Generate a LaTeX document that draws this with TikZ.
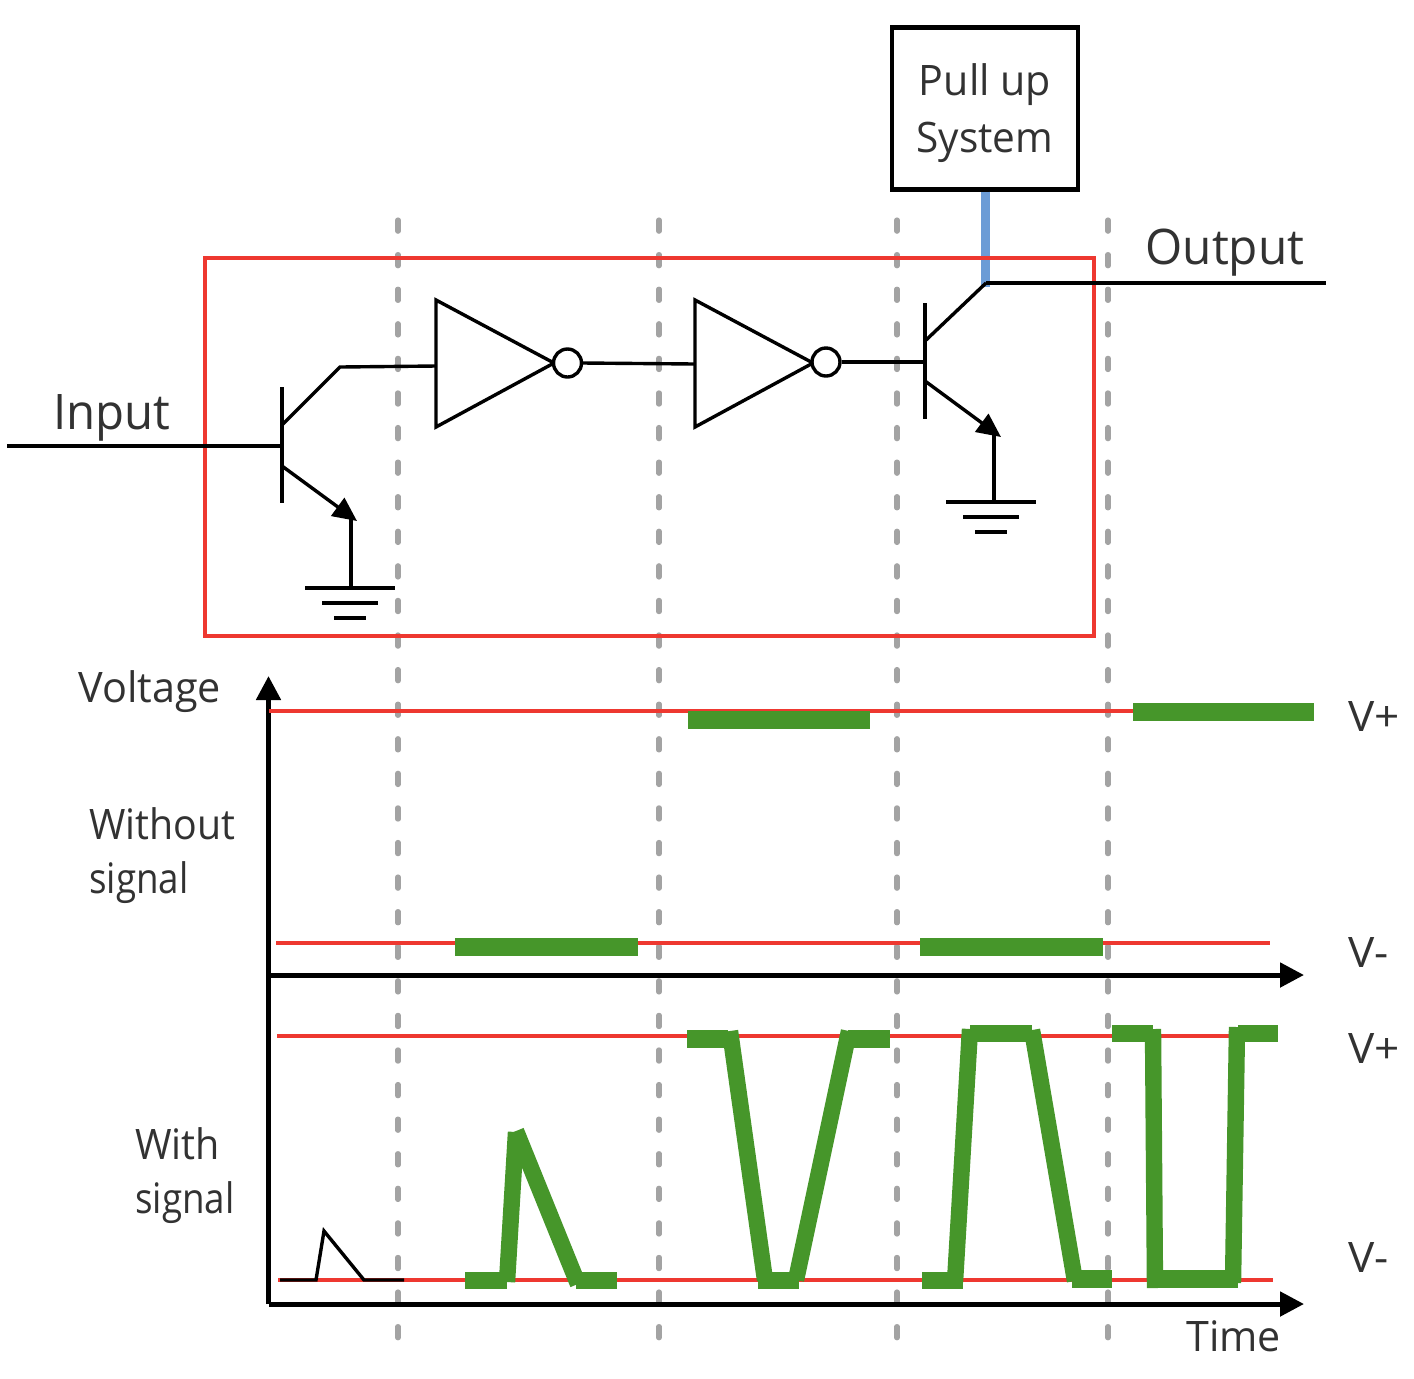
\documentclass[tikz,border=0pt]{standalone}
\usepackage{fontspec}
\usepackage{graphicx}
\setmainfont{Open Sans}
\usetikzlibrary{arrows.meta,shapes.geometric}
\definecolor{rd}{RGB}{238,56,48}
\definecolor{gn}{RGB}{70,150,42}
\definecolor{bl}{RGB}{108,156,214}
\definecolor{gy}{RGB}{163,163,163}
\definecolor{tx}{RGB}{50,50,50}
\newcommand{\sx}[2]{\scalebox{#1}[1]{#2}}
\tikzset{
 x=0.5pt,y=-0.5pt,
 wire/.style={line width=1.7pt,black},
 guide/.style={line width=2.6pt,gy,line cap=round,dash pattern=on 5.6pt off 11.69pt},
 level/.style={line width=1.7pt,rd},
 sig/.style={line width=8.2pt,gn},
 sigb/.style={line width=8.6pt,gn},
 axis/.style={line width=2.5pt,black,-{Triangle[length=12pt,width=12pt]}},
 lab/.style={inner sep=0pt,font=\fontsize{21}{21}\selectfont,text=tx},
 labb/.style={inner sep=0pt,font=\fontsize{24.5}{24.5}\selectfont,text=tx},
 emit/.style={wire,-{Triangle[length=12pt,width=11pt]}},
 bubble/.style={circle,draw=black,line width=1.7pt,fill=white,minimum size=14pt,inner sep=0pt},
 pulup/.style={draw=black,line width=2.1pt,minimum width=93pt,minimum height=81pt,inner sep=0pt,align=center,font=\fontsize{21}{28.5}\selectfont,text=tx},
}
\newcommand{\gnd}[3]{% x, y, name
 \coordinate (#3a) at (#1-45,#2); \coordinate (#3b) at (#1+45,#2);
 \coordinate (#3c) at (#1-28,#2+15); \coordinate (#3d) at (#1+28,#2+15);
 \coordinate (#3e) at (#1-16,#2+30); \coordinate (#3f) at (#1+16,#2+30);
 \draw[wire] (#3a)--(#3b) (#3c)--(#3d) (#3e)--(#3f);
}
\begin{document}
\begin{tikzpicture}
\useasboundingbox (0,0) rectangle (1414,1378);
% guides
\foreach \n/\x in {g1/398,g2/659,g3/897,g4/1108}{
 \coordinate (\n a) at (\x,220); \coordinate (\n b) at (\x,1342);
 \draw[guide] (\n a)--(\n b);
}
% pull up
\node[pulup] (pull) at (985,108.5) {\rule{0pt}{21pt}\sx{.98}{Pull up}\\\sx{.965}{System}};
\coordinate (node) at (985.5,287);
\draw[line width=4.6pt,bl] (pull.south -| node)--(node);
% red box
\node[draw=rd,line width=2pt,minimum width=444.5pt,minimum height=189pt,inner sep=0pt] (box) at (649.2,447) {};
% Output
\coordinate (outa) at (986,283);
\coordinate (outr) at (1326,283);
\draw[wire] (outa)--(outr);
\node[labb,anchor=base] (outl) at (1225,264) {\sx{.975}{Output}};
% Input transistor
\coordinate (inl) at (7,446); \coordinate (b1) at (282,446);
\coordinate (b1t) at (282,387); \coordinate (b1b) at (282,503);
\coordinate (c1a) at (282,425); \coordinate (c1) at (340,367);
\coordinate (e1a) at (282,466); \coordinate (e1) at (357,521);
\coordinate (g1t) at (351,588); \coordinate (g1e) at (351,516);
\draw[wire] (inl)--(b1);
\draw[wire] (b1t)--(b1b);
\node[labb,anchor=base] (inp) at (112,429) {\sx{.967}{Input}};
\draw[emit] (e1a)--(e1);
\draw[wire] (g1e)--(g1t);
\gnd{350}{588}{ga}
% inverters
\coordinate (i1a) at (436,300); \coordinate (i1b) at (436,427); \coordinate (i1c) at (554,363);
\draw[wire,line join=miter] (i1a)--(i1c)--(i1b)--cycle;
\node[bubble] (o1) at (567.5,363) {};
\coordinate (i1in) at (436,366);
\draw[wire] (c1a)--(c1)--(i1in);
\coordinate (i2a) at (695,300); \coordinate (i2b) at (695,427); \coordinate (i2c) at (813,363);
\draw[wire,line join=miter] (i2a)--(i2c)--(i2b)--cycle;
\node[bubble] (o2) at (826,362) {};
\coordinate (i2in) at (695,364);
\draw[wire] (o1.east)--(i2in);
% output transistor
\coordinate (b2) at (925,362);
\coordinate (b2t) at (925,303); \coordinate (b2b) at (925,419);
\coordinate (c2a) at (925,341); \coordinate (e2a) at (925,381); \coordinate (e2) at (1001,437);
\coordinate (g2t) at (994,502); \coordinate (g2e) at (994,432);
\draw[wire] (o2.east)--(b2);
\draw[wire] (b2t)--(b2b);
\draw[wire] (c2a)--(outa);
\draw[emit] (e2a)--(e2);
\draw[wire] (g2e)--(g2t);
\gnd{991}{502}{gb}
% axes
\coordinate (org) at (268.5,1304); \coordinate (top) at (268.5,676);
\coordinate (mid) at (268.5,975); \coordinate (midr) at (1304,975); \coordinate (botr) at (1304,1304);
\draw[axis] (org)--(top);
\draw[axis] (mid)--(midr);
\draw[axis] (org)--(botr);
% levels
\coordinate (l1a) at (269,711); \coordinate (l1b) at (1311,711);
\coordinate (l2a) at (276,943); \coordinate (l2b) at (1270,943);
\coordinate (l3a) at (277,1036); \coordinate (l3b) at (1273,1036);
\coordinate (l4a) at (278,1280); \coordinate (l4b) at (1273,1280);
\draw[level] (l1a)--(l1b);
\draw[level] (l2a)--(l2b);
\draw[level] (l3a)--(l3b);
\draw[level] (l4a)--(l4b);
% without signal bars
\draw[sigb] (688,720)--(870,720);
\draw[sigb] (1133,712)--(1314,712);
\draw[sigb] (455,947)--(638,947);
\draw[sigb] (920,947)--(1103,947);
% small input pulse
\draw[wire] (280,1280)--(316,1280)--(324,1231)--(364,1280)--(404,1280);
% with signal traces
\draw[sigb] (465,1280.5)--(507,1280.5) (576,1280.5)--(617,1280.5);
\draw[sig] (507,1282)--(516,1132);
\draw[sig] (516,1131)--(578,1284);
\draw[sigb] (687,1039)--(728,1039) (758,1280.5)--(799,1280.5) (848,1039)--(890,1039);
\draw[sig] (730,1031)--(765,1280);
\draw[sig] (796,1280)--(849,1031);
\draw[sigb] (922,1280.5)--(963,1280.5) (970,1033.5)--(1032,1033.5) (1072,1279)--(1112,1279);
\draw[sig] (955,1282)--(970,1029);
\draw[sig] (1032,1030)--(1075,1281);
\draw[sigb] (1112,1033.5)--(1153,1033.5) (1155,1279)--(1238,1279) (1238,1033.5)--(1278,1033.5);
\draw[sig] (1153,1029)--(1155,1288);
\draw[sig] (1233,1283)--(1237,1027);
% labels
\node[lab,anchor=base west] (volt) at (78,702) {\sx{.985}{Voltage}};
\node[lab,anchor=base west] (wo) at (89,839) {\sx{.935}{Without}};
\node[lab,anchor=base west] (wo2) at (89,893) {\sx{.875}{signal}};
\node[lab,anchor=base west] (wi) at (135,1159) {\sx{.94}{With}};
\node[lab,anchor=base west] (wi2) at (135,1213) {\sx{.875}{signal}};
\node[lab,anchor=base west] (vp1) at (1348,731) {\sx{1.05}{V+}};
\node[lab,anchor=base west] (vm1) at (1348,967) {\sx{1.05}{V-}};
\node[lab,anchor=base west] (vp2) at (1348,1063) {\sx{1.05}{V+}};
\node[lab,anchor=base west] (vm2) at (1348,1272) {\sx{1.05}{V-}};
\node[lab,anchor=base west] (tm) at (1186,1351) {\sx{.98}{Time}};
\end{tikzpicture}
\end{document}
